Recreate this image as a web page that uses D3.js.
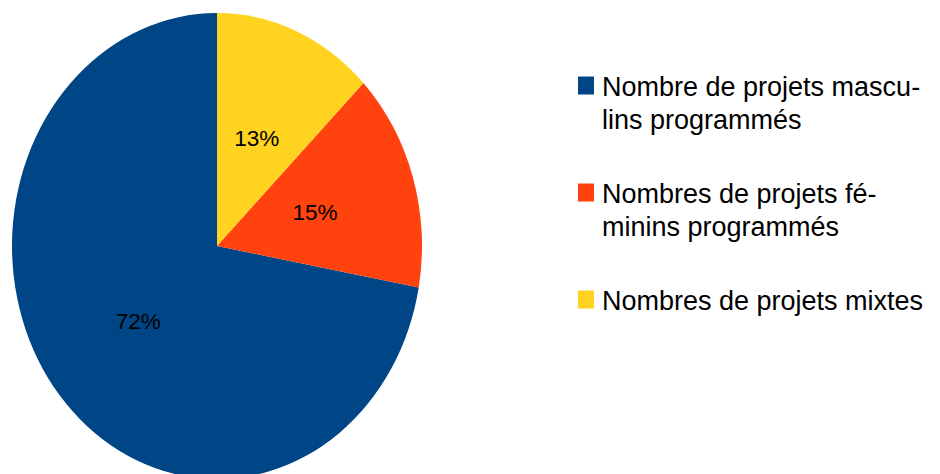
<!DOCTYPE html>
<html><head><meta charset="utf-8">
<script src="https://cdn.jsdelivr.net/npm/d3@7"></script>
<style>html,body{margin:0;padding:0;background:#fff;}svg{display:block;}</style>
</head><body>
<svg id="chart" width="940" height="474"></svg>
<script>
const categories = ["Nombre de projets masculins programmés", "Nombres de projets féminins programmés", "Nombres de projets mixtes"];
const values = [57, 12, 10];
const colors = ["#004586", "#ff420e", "#ffd320"];
const legendLines = [["Nombre de projets mascu-", "lins programmés"], ["Nombres de projets fé-", "minins programmés"], ["Nombres de projets mixtes"]];

const svg = d3.select("#chart");
const cx = 217, cy = 246, rx = 205, ry = 233;
const sy = ry / rx;

const data = categories.map((c, i) => ({name: c, value: values[i], color: colors[i], lines: legendLines[i]}));
const pie = d3.pie().value(d => d.value).sort(null).startAngle(0).endAngle(-2 * Math.PI);
const arcs = pie(data);
const arc = d3.arc().innerRadius(0).outerRadius(rx);

const g = svg.append("g").attr("transform", `translate(${cx},${cy}) scale(1,${sy})`);
g.selectAll("path").data(arcs).join("path")
  .attr("d", arc).attr("fill", d => d.data.color);

const total = d3.sum(values);
svg.append("g").selectAll("text").data(arcs).join("text")
  .attr("x", d => cx + arc.centroid(d)[0])
  .attr("y", d => cy + arc.centroid(d)[1] * sy)
  .attr("dy", "0.35em")
  .attr("text-anchor", "middle")
  .attr("font-family", "'Liberation Sans', Arial, sans-serif")
  .attr("font-size", 22.5)
  .attr("fill", "#000")
  .text(d => Math.round(d.data.value / total * 100) + "%");

const legendY = [96, 203, 310];
const lg = svg.append("g");
data.forEach((d, i) => {
  lg.append("rect").attr("x", 578).attr("y", legendY[i] - 19.5).attr("width", 16).attr("height", 18).attr("fill", d.color);
  const t = lg.append("text").attr("x", 602).attr("y", legendY[i])
    .attr("font-family", "'Liberation Sans', Arial, sans-serif")
    .attr("font-size", 27).attr("fill", "#000");
  d.lines.forEach((l, j) => {
    t.append("tspan").attr("x", 602).attr("y", legendY[i] + j * 33).text(l);
  });
});
</script>
</body></html>
